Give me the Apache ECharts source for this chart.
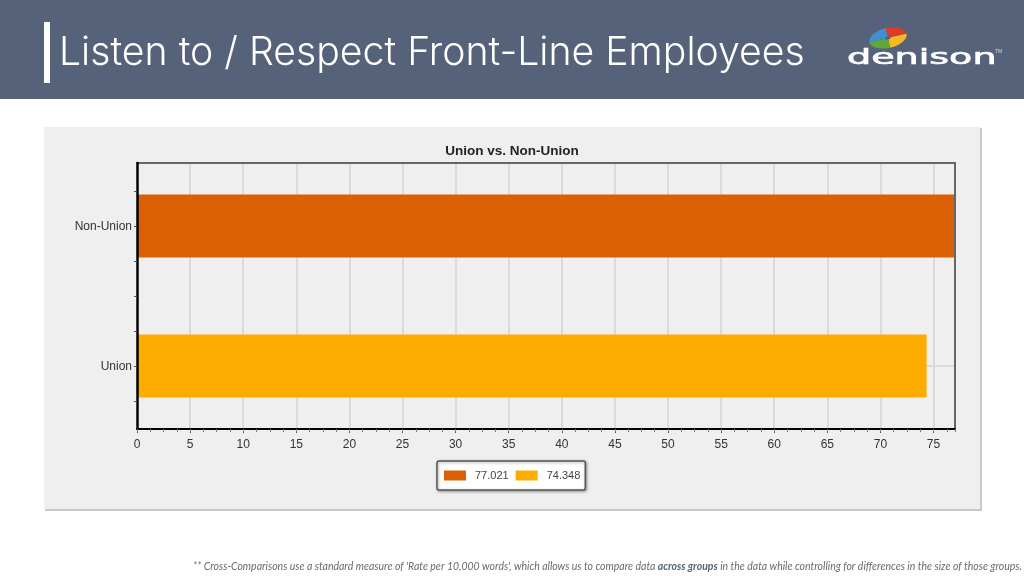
<!DOCTYPE html>
<html>
<head>
<meta charset="utf-8">
<title>Listen to / Respect Front-Line Employees</title>
<script src="https://cdn.jsdelivr.net/npm/echarts@6/dist/echarts.min.js"></script>
<style>
  html, body { margin: 0; padding: 0; background: #fff; }
  #chart { width: 1024px; height: 576px; }
</style>
</head>
<body>
<div id="chart"></div>
<script>
const pageTitle = "Listen to / Respect Front-Line Employees";
const chartTitle = "Union vs. Non-Union";
const categories = ["Union", "Non-Union"];
const categoryRows = [9, 29];   // rows on the y axis, the axis has rowCount rows
const rowCount = 39;
const values = [74.348, 77.021];
const barColors = ["#ffac00", "#db5f03"];
const xTicks = { min: 0, max: 77.021, major: 5, minor: 1.25 };

const chart = echarts.init(document.getElementById("chart"));

const yRows = new Array(rowCount).fill("");
categories.forEach((name, i) => { yRows[categoryRows[i]] = name; });

function barSeries(i) {
  const data = new Array(rowCount).fill(null);
  data[categoryRows[i]] = values[i];
  return {
    name: String(values[i]),
    type: "bar",
    data: data,
    barWidth: 63,
    barGap: "-100%",
    itemStyle: { color: barColors[i] },
    emphasis: { disabled: true }
  };
}

// grey frame line on the top and right of the plot
function frameAxis(type, position) {
  return {
    type: type, position: position, z: 3,
    min: type === "value" ? xTicks.min : undefined,
    max: type === "value" ? xTicks.max : undefined,
    data: type === "category" ? yRows : undefined,
    boundaryGap: type === "category" ? false : undefined,
    axisLine: { show: true, onZero: false, lineStyle: { color: "#666", width: 2 } },
    axisTick: { show: false },
    axisLabel: { show: false },
    splitLine: { show: false }
  };
}

const uiFont = "Liberation Sans";

chart.setOption({
  animation: false,
  backgroundColor: "#fff",
  textStyle: { fontFamily: uiFont },
  title: [
    {
      text: pageTitle, left: 59, top: 34, padding: 0,
      textStyle: { color: "#fff", fontFamily: "Inter", fontWeight: 300, fontSize: 39.2 }
    },
    {
      text: chartTitle, left: 512, top: 144, padding: 0, textAlign: "center",
      textStyle: { color: "#222", fontFamily: uiFont, fontWeight: "bold", fontSize: 13.5 }
    }
  ],
  legend: {
    left: 437, top: 461, orient: "horizontal",
    data: [String(values[1]), String(values[0])],
    icon: "rect", itemWidth: 22, itemHeight: 10, itemGap: 7,
    padding: [9, 5, 9, 7],
    backgroundColor: "#fff",
    borderColor: "#555", borderWidth: 1.5, borderRadius: 2,
    shadowColor: "rgba(0,0,0,0.35)", shadowBlur: 3, shadowOffsetX: 1, shadowOffsetY: 1,
    textStyle: { color: "#444", fontSize: 11, fontFamily: uiFont, padding: [0, 0, 0, 4] },
    selectedMode: false
  },
  grid: { left: 137, right: 69, top: 163, bottom: 147 },
  xAxis: [
    {
      // labels and grid lines, under the bars
      type: "value", min: xTicks.min, max: xTicks.max, interval: xTicks.major,
      axisLine: { show: false },
      axisTick: { show: true, length: 4, lineStyle: { color: "#555" } },
      axisLabel: { show: true, showMaxLabel: false, color: "#333", fontSize: 12, margin: 10 },
      splitLine: {
        show: true, showMinLine: false, showMaxLine: false,
        lineStyle: { color: "#dadada", width: 2 }
      }
    },
    {
      // axis line over the bars and the small ticks between the labelled ones
      type: "value", position: "bottom", min: xTicks.min, max: xTicks.max, interval: xTicks.minor, z: 4,
      axisLine: { show: true, lineStyle: { color: "#000", width: 2 } },
      axisTick: { show: true, length: 3, lineStyle: { color: "#777" } },
      axisLabel: { show: false },
      splitLine: { show: false }
    },
    frameAxis("value", "top")
  ],
  yAxis: [
    {
      type: "category", data: yRows, boundaryGap: false,
      axisLine: { show: false },
      axisTick: { show: false },
      axisLabel: { show: false },
      splitLine: {
        show: true, lineStyle: { color: "#dadada", width: 2 },
        interval: i => categoryRows.includes(i)
      }
    },
    {
      type: "category", data: yRows, boundaryGap: false, position: "left", z: 4,
      axisLine: { show: true, lineStyle: { color: "#000", width: 2.5 } },
      axisTick: {
        show: true, length: 3, lineStyle: { color: "#555" },
        interval: i => i % 5 === 4
      },
      axisLabel: { interval: 0, color: "#333", fontSize: 12, margin: 5, verticalAlign: "top", lineHeight: 2 },
      splitLine: { show: false }
    },
    frameAxis("category", "right")
  ],
  series: [barSeries(1), barSeries(0)],
  graphic: [
    { type: "rect", z: -10, shape: { x: 0, y: 0, width: 1024, height: 99 }, style: { fill: "#56627a" } },
    { type: "rect", z: -9, shape: { x: 44, y: 22, width: 6, height: 61 }, style: { fill: "#fff" } },
    { type: "rect", z: -10, shape: { x: 45, y: 128, width: 937, height: 383 }, style: { fill: "#c9c9c9" } },
    { type: "rect", z: -9, shape: { x: 44, y: 127, width: 936, height: 382 }, style: { fill: "#efefef" } },
    // logo
    {
      type: "group", x: 888, y: 38, rotation: 0.22, scaleY: 0.52, z: -8,
      children: [
        { type: "sector", shape: { r: 19, r0: 3, startAngle: Math.PI, endAngle: Math.PI * 1.5 }, style: { fill: "#3f8fd2" } },
        { type: "sector", shape: { r: 19, r0: 3, startAngle: Math.PI * 1.5, endAngle: Math.PI * 2 }, style: { fill: "#dc3b2b" } },
        { type: "sector", shape: { r: 19, r0: 3, startAngle: 0, endAngle: Math.PI * 0.5 }, style: { fill: "#f5b921" } },
        { type: "sector", shape: { r: 19, r0: 3, startAngle: Math.PI * 0.5, endAngle: Math.PI }, style: { fill: "#5fa83a" } }
      ]
    },
    {
      type: "text", x: 847, y: 47, scaleX: 1.73, z: -8,
      style: { text: "denison", fill: "#fff", stroke: "#fff", lineWidth: 0.7, font: "22px 'DejaVu Sans'" }
    },
    {
      type: "text", x: 995, y: 49, z: -8,
      style: { text: "TM", fill: "#d8dce4", font: "5px 'Liberation Sans'" }
    },
    // footnote
    {
      type: "text", x: 193, y: 562, z: -8,
      style: {
        text: "{n|** Cross-Comparisons use a standard measure of 'Rate per 10,000 words', which allows us to compare data }{b|across groups}{n| in the data while controlling for differences in the size of those groups.}",
        rich: {
          n: { font: "italic 10.47px 'Lato'", fill: "#6b6b6b" },
          b: { font: "italic bold 10.47px 'Lato'", fill: "#56627a" }
        }
      }
    }
  ]
});
</script>
</body>
</html>
